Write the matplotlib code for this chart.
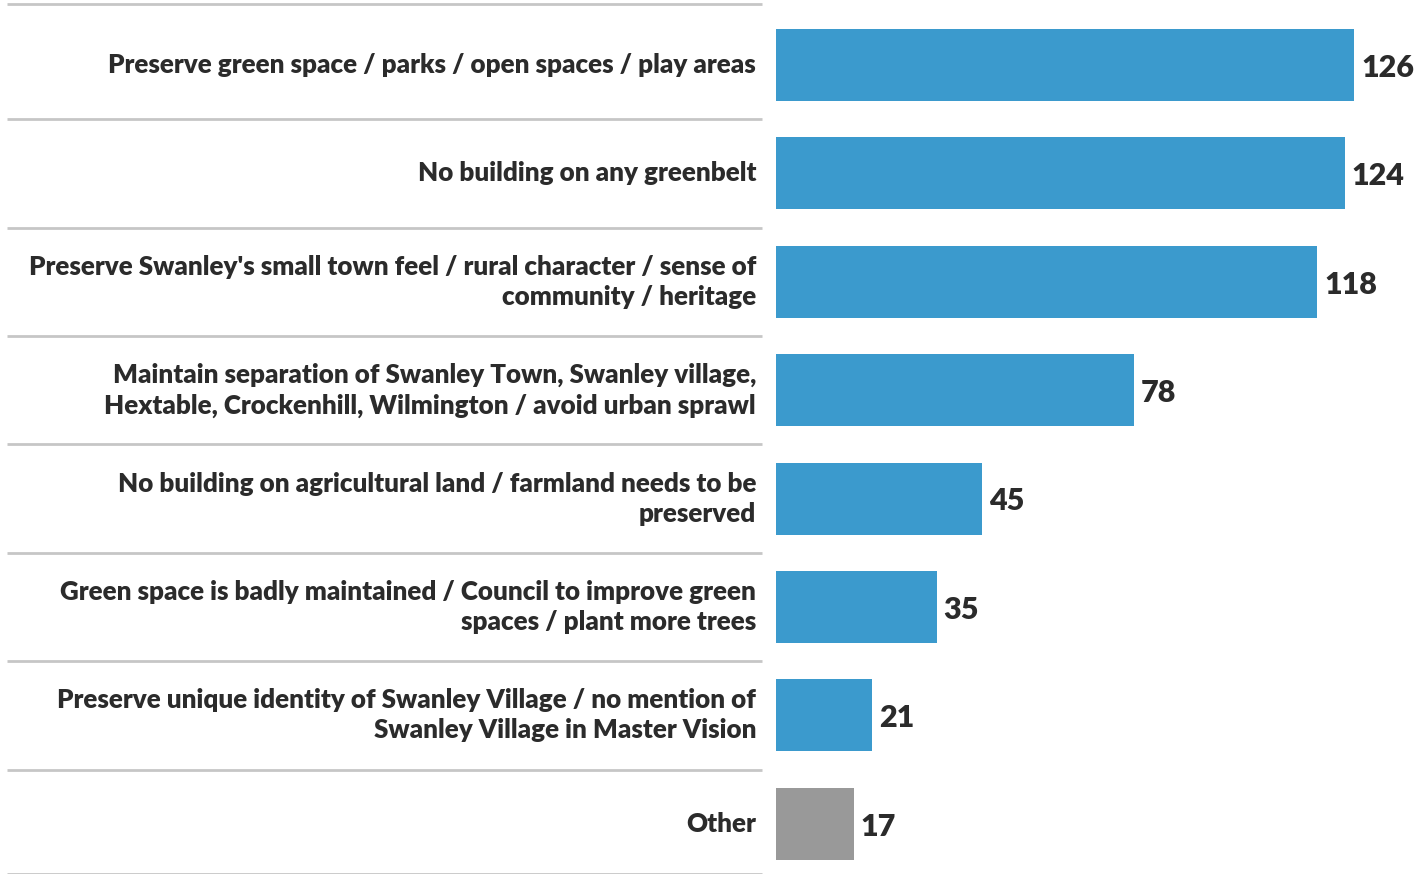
import matplotlib.pyplot as plt
from matplotlib.transforms import blended_transform_factory

plt.rcParams["font.family"] = ["Lato", "DejaVu Sans"]

categories = [
    "Preserve green space / parks / open spaces / play areas",
    "No building on any greenbelt",
    "Preserve Swanley's small town feel / rural character / sense of\ncommunity / heritage",
    "Maintain separation of Swanley Town, Swanley village,\nHextable, Crockenhill, Wilmington / avoid urban sprawl",
    "No building on agricultural land / farmland needs to be\npreserved",
    "Green space is badly maintained / Council to improve green\nspaces / plant more trees",
    "Preserve unique identity of Swanley Village / no mention of\nSwanley Village in Master Vision",
    "Other",
]
counts = [126, 124, 118, 78, 45, 35, 21, 17]

BLUE = "#3b9acd"
GREY = "#999999"
TEXT = "#2b2b2b"
RULE = "#c6c6c6"

W, H = 1421, 874
fig = plt.figure(figsize=(W / 100, H / 100), dpi=100)
ax = fig.add_axes([776 / W, 0, 1 - 776 / W, 1])

pos = list(range(len(categories)))
colors = [GREY if c == "Other" else BLUE for c in categories]
ax.barh(pos, counts, height=0.665, color=colors)
ax.set_xlim(0, 140.6)
ax.set_ylim(7.463, -0.600)
ax.axis("off")

for y, v in zip(pos, counts):
    ax.annotate(str(v), (v, y), xytext=(5, -2), textcoords="offset points",
                ha="left", va="center", fontsize=22, fontweight="heavy", color=TEXT)

# labels and row rules sit left of the axes, in figure x / data y
trans = blended_transform_factory(fig.transFigure, ax.transData)
for y, label in zip(pos, categories):
    ax.text(756 / W, y, label, transform=trans, ha="right", va="center",
            fontsize=18.7, fontweight="heavy", color=TEXT, linespacing=1.3,
            clip_on=False)

rules = [pos[0] - 0.56] + [p - 0.5 for p in pos[1:]] + [pos[-1] + 0.46]
for y in rules:
    ax.plot([7 / W, 762 / W], [y, y], transform=trans, color=RULE, lw=2,
            clip_on=False, solid_capstyle="butt")

fig.savefig("out.png", dpi=100)
